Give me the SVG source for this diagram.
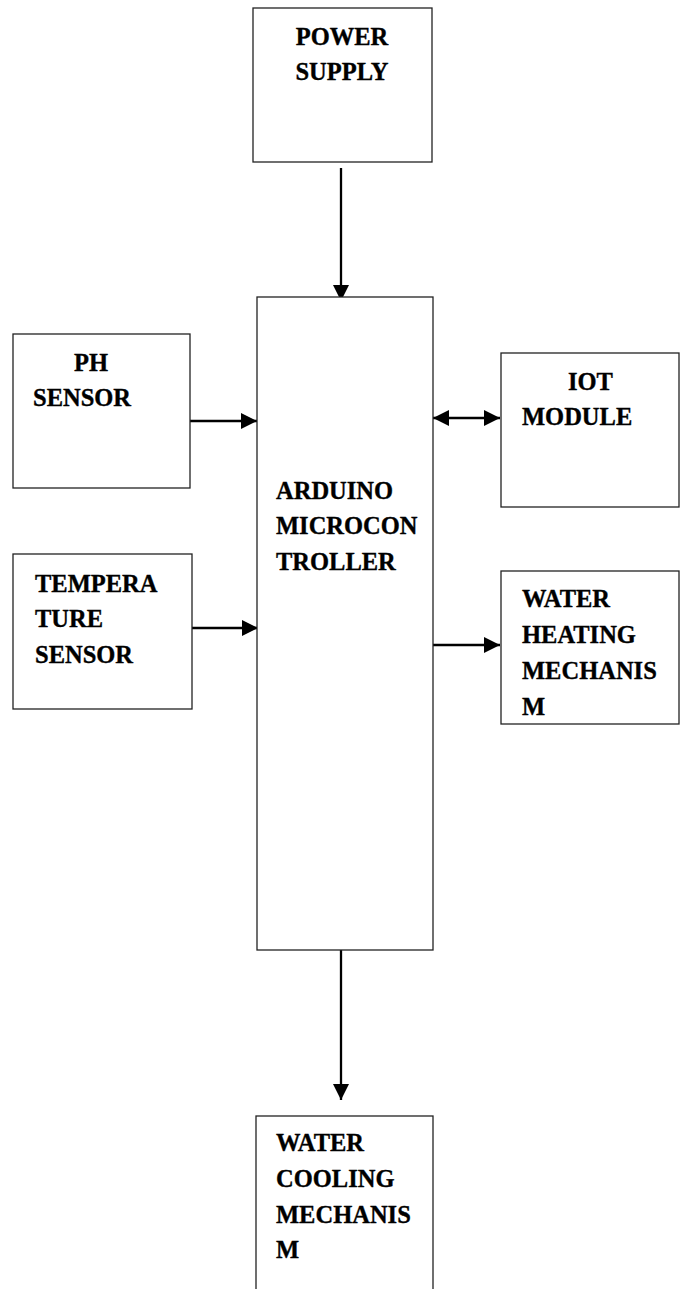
<svg xmlns="http://www.w3.org/2000/svg" width="683" height="1289" viewBox="0 0 683 1289">
<style>
.box{fill:#fff;stroke:#222;stroke-width:1.3}
.t{font-family:"Liberation Serif","Times New Roman",serif;font-weight:bold;font-size:24.5px;fill:#000;stroke:#000;stroke-width:0.35}
.c{stroke:#000;stroke-width:2.3;fill:none}
</style>
<defs>
<marker id="ah" markerUnits="userSpaceOnUse" markerWidth="16" markerHeight="16" refX="16" refY="8" orient="auto-start-reverse" viewBox="0 0 16 16">
<path d="M0,0 L16,8 L0,16 z" fill="#000"/>
</marker>
</defs>
<rect width="683" height="1289" fill="#fff"/>
<g id="connectors">
<line class="c" x1="341" y1="168" x2="341" y2="301" marker-end="url(#ah)"/>
<line class="c" x1="190" y1="421" x2="257" y2="421" marker-end="url(#ah)"/>
<line class="c" x1="192" y1="628" x2="258" y2="628" marker-end="url(#ah)"/>
<line class="c" x1="433" y1="418" x2="500" y2="418" marker-start="url(#ah)" marker-end="url(#ah)"/>
<line class="c" x1="433" y1="645" x2="500" y2="645" marker-end="url(#ah)"/>
<line class="c" x1="341" y1="950" x2="341" y2="1100" marker-end="url(#ah)"/>
</g>
<g id="power">
<rect class="box" x="253" y="8" width="179" height="154"/>
<text class="t" x="342" y="45" text-anchor="middle">POWER</text>
<text class="t" x="342" y="80" text-anchor="middle">SUPPLY</text>
</g>
<g id="arduino">
<rect class="box" x="257" y="297" width="176" height="653"/>
<text class="t" x="276" y="499">ARDUINO</text>
<text class="t" x="276" y="534">MICROCON</text>
<text class="t" x="276" y="570">TROLLER</text>
</g>
<g id="ph">
<rect class="box" x="13" y="334" width="177" height="154"/>
<text class="t" x="74" y="371">PH</text>
<text class="t" x="33" y="406">SENSOR</text>
</g>
<g id="iot">
<rect class="box" x="501" y="353" width="178" height="154"/>
<text class="t" x="568" y="390">IOT</text>
<text class="t" x="522" y="425">MODULE</text>
</g>
<g id="temp">
<rect class="box" x="13" y="554" width="179" height="155"/>
<text class="t" x="35" y="592">TEMPERA</text>
<text class="t" x="35" y="627">TURE</text>
<text class="t" x="35" y="663">SENSOR</text>
</g>
<g id="heating">
<rect class="box" x="501" y="571" width="178" height="153"/>
<text class="t" x="522" y="607">WATER</text>
<text class="t" x="522" y="643">HEATING</text>
<text class="t" x="522" y="679">MECHANIS</text>
<text class="t" x="522" y="715">M</text>
</g>
<g id="cooling">
<rect class="box" x="256" y="1116" width="177" height="180"/>
<text class="t" x="276" y="1151">WATER</text>
<text class="t" x="276" y="1187">COOLING</text>
<text class="t" x="276" y="1223">MECHANIS</text>
<text class="t" x="276" y="1258">M</text>
</g>
</svg>
